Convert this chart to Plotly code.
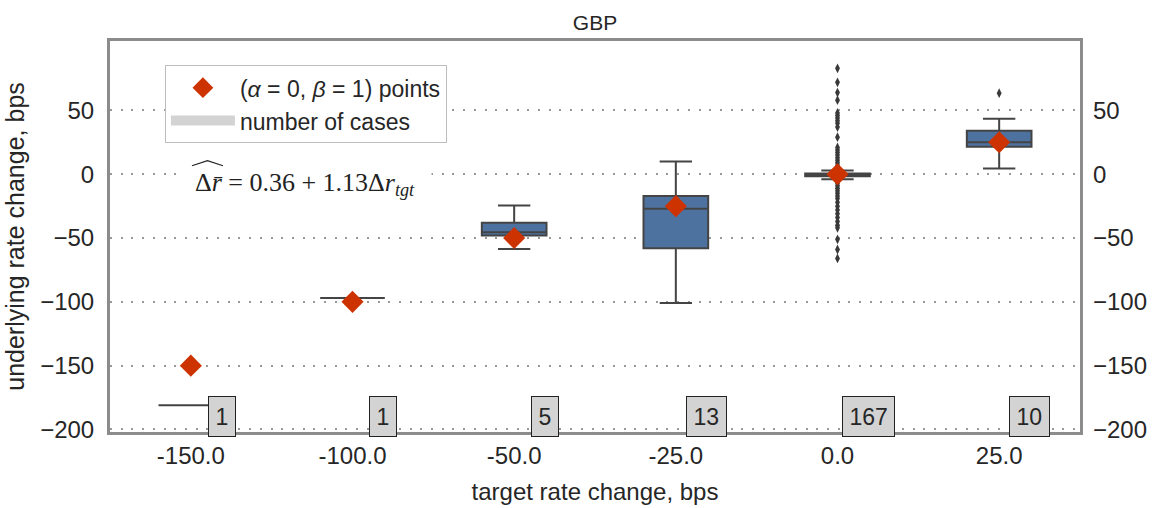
import plotly.graph_objects as go

# ---- data ----
categories = ["-150.0", "-100.0", "-50.0", "-25.0", "0.0", "25.0"]
target_change = [-150, -100, -50, -25, 0, 25]
q1 = [-181, -97, -48, -58, -1.5, 21.5]
median = [-181, -97, -45.5, -27, -0.5, 25]
q3 = [-181, -97, -38, -17, 0.5, 34]
lower_fence = [-181, -97, -58.5, -101, -4, 4.5]
upper_fence = [-181, -97, -24.5, 10, 3, 43.5]
counts = [1, 1, 5, 13, 167, 10]
outliers_zero = [83, 72, 64, 58, 48, 46, 44, 42, 40, 37, 29, 21, 19, 17, 15, 13,
                 11, 9, 7, 5, -5, -7, -9, -11, -13, -15, -17, -19, -22, -25, -28,
                 -31, -34, -37, -40, -42, -51, -59, -66]
outliers_25 = [63.5]
y_ticks = [50, 0, -50, -100, -150, -200]

idx = list(range(len(categories)))
TXT = "#262626"
FONT = "Liberation Sans, Arial, sans-serif"
FS = 24

fig = go.Figure()

fig.add_trace(go.Box(
    x=idx, q1=q1, median=median, q3=q3,
    lowerfence=lower_fence, upperfence=upper_fence,
    width=0.4, whiskerwidth=0.5,
    fillcolor="#4E72A0", line=dict(color="#444444", width=2),
    boxpoints=False, showlegend=False, hoverinfo="skip",
))

out_x = [idx[4]] * len(outliers_zero) + [idx[5]] * len(outliers_25)
out_y = outliers_zero + outliers_25
fig.add_trace(go.Scatter(
    x=out_x, y=out_y, mode="markers",
    marker=dict(symbol="diamond-tall", size=7, color="#3a3a3a"),
    showlegend=False, hoverinfo="skip",
))

fig.add_trace(go.Scatter(
    x=idx, y=target_change, mode="markers",
    marker=dict(symbol="diamond", size=17, color="#CC3300"),
    name="(<i>α</i> = 0, <i>β</i> = 1) points",
))

fig.add_trace(go.Scatter(
    x=[None], y=[None], mode="lines",
    line=dict(color="#D3D3D3", width=15),
    name="number of cases",
))

# dummy trace for the mirrored right axis
fig.add_trace(go.Scatter(x=[None], y=[None], yaxis="y2", showlegend=False,
                         hoverinfo="skip"))

for i, n in zip(idx, counts):
    fig.add_annotation(
        x=i + 0.19, y=-189.7, text=str(n), showarrow=False,
        font=dict(size=23, color=TXT, family=FONT),
        bgcolor="#D3D3D3", bordercolor="#222222", borderwidth=1, borderpad=6.5,
    )

fig.add_annotation(
    x=0.0705, y=-7.6, xref="paper", yref="y", xanchor="left", yanchor="middle",
    text="Δ<i>r̄</i> = 0.36 + 1.13Δ<i>r</i><sub><i>tgt</i></sub>",
    showarrow=False, bgcolor="white", borderpad=0, height=34, width=252,
    align="center", valign="middle",
    font=dict(size=26, color="#222222", family="Liberation Serif, DejaVu Serif, serif"),
)

yr = [-202, 104.4]
fig.update_layout(
    width=1158, height=508,
    margin=dict(l=110, r=78, t=41, b=76),
    paper_bgcolor="white", plot_bgcolor="white",
    font=dict(family=FONT, size=FS, color=TXT),
    title=dict(text="GBP", x=0.5, xref="paper", xanchor="center",
               y=0.955, yanchor="middle",
               font=dict(size=21, color=TXT)),
    xaxis=dict(
        range=[-0.5, 5.5], tickvals=idx, ticktext=categories,
        showgrid=False, zeroline=False, ticks="", automargin=False,
        showline=True, linecolor="#8c8c8c", linewidth=3, mirror=True,
        title=dict(text="target rate change, bps", standoff=16,
                   font=dict(size=24, color=TXT)),
        tickfont=dict(size=FS, color=TXT),
    ),
    yaxis=dict(
        range=yr, tickvals=y_ticks, ticktext=[str(v).replace("-", "−") for v in y_ticks],
        showgrid=True, gridcolor="#999999", gridwidth=2, griddash="2px,8.7px",
        zeroline=False, ticks="", automargin=False,
        showline=True, linecolor="#8c8c8c", linewidth=3, mirror=True,
        title=dict(text="underlying rate change, bps", standoff=9,
                   font=dict(size=25, color=TXT)),
        tickfont=dict(size=FS, color=TXT), ticklabelstandoff=8,
    ),
    yaxis2=dict(
        range=yr, overlaying="y", side="right", automargin=False,
        tickvals=y_ticks, ticktext=[str(v).replace("-", "−") for v in y_ticks],
        showgrid=False, zeroline=False, showline=False, ticks="",
        tickfont=dict(size=FS, color=TXT), ticklabelstandoff=12,
    ),
    legend=dict(
        x=0.0566, y=0.938, xanchor="left", yanchor="top",
        bgcolor="white", bordercolor="#bdbdbd", borderwidth=1,
        font=dict(size=FS - 1, color=TXT), itemwidth=64,
    ),
)

# wide hat over the r-bar in the fitted-value annotation (decorative)
fig.add_shape(type="path", xref="paper", yref="paper",
              path="M 0.0845 0.681 L 0.1005 0.694 L 0.1165 0.681",
              line=dict(color="#222222", width=1.2))

fig.write_html("out.html")
